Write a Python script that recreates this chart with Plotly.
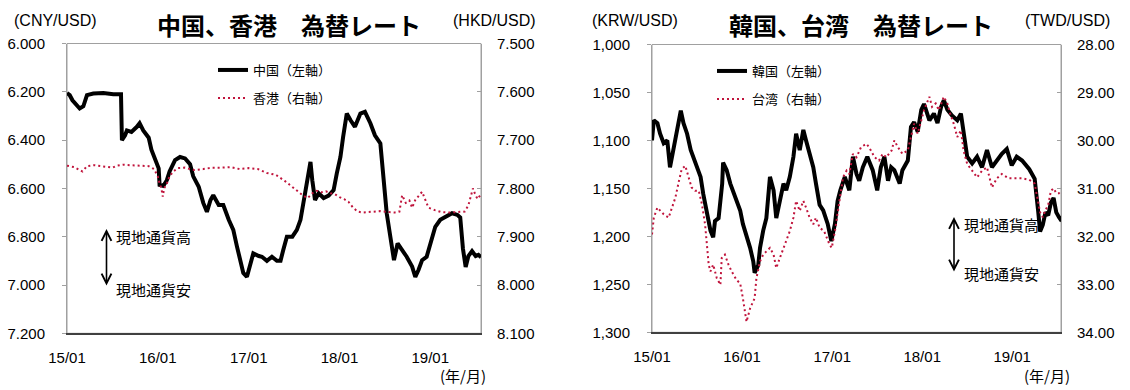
import datetime as dt
import plotly.graph_objects as go

# ---------------- data (decimal year, value) ----------------
cny_t = [2015.00, 2015.03, 2015.06, 2015.09, 2015.14, 2015.18, 2015.22, 2015.29, 2015.40, 2015.51,
         2015.595, 2015.605, 2015.64, 2015.66, 2015.71, 2015.77, 2015.80, 2015.84, 2015.90, 2015.93,
         2015.97, 2016.01, 2016.02, 2016.06, 2016.10, 2016.13, 2016.19, 2016.245, 2016.30, 2016.355,
         2016.39, 2016.45, 2016.50, 2016.54, 2016.58, 2016.61, 2016.67, 2016.72, 2016.78, 2016.83,
         2016.87, 2016.91, 2016.94, 2016.98, 2017.02, 2017.05, 2017.11, 2017.145, 2017.20, 2017.255,
         2017.31, 2017.35, 2017.38, 2017.42, 2017.48, 2017.53, 2017.57, 2017.60, 2017.64, 2017.68,
         2017.70, 2017.73, 2017.77, 2017.825, 2017.88, 2017.935, 2017.97, 2018.01, 2018.04, 2018.08,
         2018.12, 2018.17, 2018.23, 2018.28, 2018.34, 2018.39, 2018.45, 2018.485, 2018.52, 2018.56,
         2018.60, 2018.64, 2018.69, 2018.74, 2018.80, 2018.835, 2018.87, 2018.91, 2018.96, 2019.00,
         2019.055, 2019.11, 2019.165, 2019.24, 2019.30, 2019.33, 2019.36, 2019.39, 2019.42, 2019.46,
         2019.50, 2019.53, 2019.56]
cny_v = [6.205, 6.214, 6.235, 6.249, 6.269, 6.260, 6.214, 6.207, 6.205, 6.210,
         6.210, 6.400, 6.380, 6.360, 6.366, 6.345, 6.330, 6.360, 6.390, 6.440,
         6.476, 6.517, 6.586, 6.590, 6.566, 6.530, 6.483, 6.470, 6.476, 6.500,
         6.550, 6.593, 6.660, 6.697, 6.648, 6.628, 6.669, 6.669, 6.730, 6.772,
         6.840, 6.897, 6.950, 6.966, 6.910, 6.869, 6.880, 6.883, 6.900, 6.883,
         6.900, 6.900, 6.855, 6.800, 6.800, 6.772, 6.730, 6.662, 6.593, 6.490,
         6.566, 6.648, 6.620, 6.640, 6.630, 6.607, 6.538, 6.470, 6.386, 6.290,
         6.317, 6.345, 6.290, 6.283, 6.330, 6.380, 6.414, 6.550, 6.703, 6.800,
         6.897, 6.828, 6.855, 6.883, 6.924, 6.966, 6.938, 6.897, 6.883, 6.828,
         6.759, 6.730, 6.717, 6.703, 6.710, 6.720, 6.850, 6.925, 6.880, 6.860,
         6.880, 6.875, 6.885]

hkd_t = [2015.00, 2015.08, 2015.17, 2015.22, 2015.30, 2015.40, 2015.50, 2015.55, 2015.62, 2015.70,
         2015.80, 2015.90, 2015.96, 2016.00, 2016.02, 2016.04, 2016.055, 2016.07, 2016.10, 2016.13,
         2016.17, 2016.22, 2016.30, 2016.40, 2016.50, 2016.60, 2016.70, 2016.80, 2016.90, 2017.00,
         2017.10, 2017.20, 2017.30, 2017.40, 2017.50, 2017.55, 2017.60, 2017.65, 2017.70, 2017.75,
         2017.80, 2017.85, 2017.90, 2017.95, 2018.00, 2018.05, 2018.10, 2018.15, 2018.20, 2018.25,
         2018.35, 2018.45, 2018.55, 2018.62, 2018.66, 2018.69, 2018.71, 2018.73, 2018.77, 2018.80,
         2018.835, 2018.87, 2018.91, 2018.95, 2018.98, 2019.05, 2019.12, 2019.20, 2019.30, 2019.38,
         2019.42, 2019.45, 2019.47, 2019.49, 2019.52, 2019.56]
hkd_v = [7.753, 7.756, 7.765, 7.754, 7.752, 7.755, 7.757, 7.753, 7.751, 7.752,
         7.753, 7.754, 7.760, 7.775, 7.790, 7.800, 7.817, 7.800, 7.790, 7.775,
         7.765, 7.758, 7.757, 7.762, 7.760, 7.757, 7.757, 7.756, 7.760, 7.758,
         7.760, 7.768, 7.772, 7.785, 7.800, 7.808, 7.815, 7.820, 7.810, 7.805,
         7.808, 7.806, 7.810, 7.812, 7.818, 7.822, 7.828, 7.840, 7.848, 7.850,
         7.849, 7.847, 7.849, 7.850, 7.848, 7.814, 7.822, 7.830, 7.825, 7.840,
         7.824, 7.815, 7.807, 7.826, 7.840, 7.845, 7.849, 7.850, 7.849, 7.848,
         7.835, 7.815, 7.800, 7.810, 7.822, 7.812]

krw_t = [2015.00, 2015.02, 2015.06, 2015.09, 2015.13, 2015.17, 2015.20, 2015.24, 2015.28, 2015.32,
         2015.35, 2015.39, 2015.43, 2015.46, 2015.50, 2015.54, 2015.57, 2015.61, 2015.65, 2015.68,
         2015.70, 2015.74, 2015.78, 2015.79, 2015.83, 2015.87, 2015.90, 2015.94, 2015.98, 2016.01,
         2016.05, 2016.09, 2016.125, 2016.14, 2016.18, 2016.20, 2016.235, 2016.27, 2016.31, 2016.35,
         2016.38, 2016.42, 2016.46, 2016.49, 2016.53, 2016.57, 2016.60, 2016.64, 2016.68, 2016.71,
         2016.75, 2016.79, 2016.82, 2016.86, 2016.90, 2016.95, 2016.99, 2017.03, 2017.06, 2017.09,
         2017.14, 2017.19, 2017.23, 2017.27, 2017.30, 2017.34, 2017.39, 2017.45, 2017.50, 2017.54,
         2017.58, 2017.62, 2017.655, 2017.69, 2017.75, 2017.78, 2017.84, 2017.875, 2017.91, 2017.95,
         2017.99, 2018.02, 2018.08, 2018.13, 2018.17, 2018.21, 2018.24, 2018.28, 2018.33, 2018.39,
         2018.43, 2018.46, 2018.50, 2018.555, 2018.61, 2018.665, 2018.72, 2018.775, 2018.83, 2018.885,
         2018.94, 2018.995, 2019.05, 2019.11, 2019.19, 2019.25, 2019.29, 2019.31, 2019.34, 2019.37,
         2019.40, 2019.43, 2019.46, 2019.49, 2019.52, 2019.55]
krw_v = [1100, 1079, 1082, 1093, 1103, 1100, 1128, 1107, 1086, 1069,
         1082, 1093, 1110, 1117, 1128, 1138, 1156, 1173, 1194, 1201,
         1184, 1181, 1145, 1123, 1131, 1145, 1152, 1163, 1173, 1187,
         1198, 1212, 1226, 1238, 1230, 1212, 1194, 1181, 1138, 1152,
         1181, 1163, 1145, 1152, 1138, 1117, 1093, 1110, 1089, 1100,
         1114, 1128, 1145, 1167, 1173, 1187, 1205, 1187, 1163, 1152,
         1138, 1152, 1117, 1135, 1142, 1128, 1117, 1131, 1152, 1128,
         1117, 1142, 1128, 1131, 1145, 1131, 1121, 1086, 1081, 1091,
         1068, 1062, 1079, 1072, 1082, 1065, 1058, 1068, 1074, 1079,
         1072, 1089, 1117, 1124, 1117, 1128, 1110, 1128, 1121, 1114,
         1109, 1126, 1117, 1121, 1130, 1140, 1175, 1195, 1188, 1175,
         1178, 1165, 1160, 1175, 1180, 1184]

twd_t = [2015.00, 2015.02, 2015.06, 2015.09, 2015.13, 2015.185, 2015.22, 2015.26, 2015.30, 2015.33,
         2015.37, 2015.41, 2015.44, 2015.48, 2015.52, 2015.555, 2015.59, 2015.61, 2015.63, 2015.65,
         2015.68, 2015.72, 2015.76, 2015.775, 2015.81, 2015.85, 2015.885, 2015.94, 2015.98, 2016.01,
         2016.03, 2016.05, 2016.09, 2016.14, 2016.16, 2016.20, 2016.235, 2016.27, 2016.31, 2016.35,
         2016.38, 2016.42, 2016.46, 2016.49, 2016.53, 2016.57, 2016.60, 2016.64, 2016.68, 2016.71,
         2016.75, 2016.79, 2016.82, 2016.86, 2016.91, 2016.97, 2016.995, 2017.03, 2017.06, 2017.09,
         2017.12, 2017.16, 2017.19, 2017.23, 2017.27, 2017.32, 2017.38, 2017.41, 2017.47, 2017.52,
         2017.56, 2017.60, 2017.66, 2017.69, 2017.73, 2017.78, 2017.84, 2017.875, 2017.91, 2017.95,
         2017.99, 2018.02, 2018.08, 2018.11, 2018.15, 2018.185, 2018.24, 2018.28, 2018.31, 2018.35,
         2018.39, 2018.43, 2018.46, 2018.50, 2018.555, 2018.61, 2018.665, 2018.72, 2018.775, 2018.83,
         2018.885, 2018.96, 2019.03, 2019.11, 2019.19, 2019.25, 2019.29, 2019.31, 2019.34, 2019.37,
         2019.40, 2019.43, 2019.46, 2019.49, 2019.52, 2019.55]
twd_v = [31.96, 31.61, 31.40, 31.47, 31.54, 31.61, 31.40, 31.19, 30.84, 30.60,
         30.53, 30.77, 30.98, 31.05, 31.05, 31.33, 31.75, 32.17, 32.59, 32.73,
         32.59, 32.87, 33.01, 32.45, 32.38, 32.59, 32.73, 32.91, 32.98, 33.29,
         33.57, 33.78, 33.50, 33.29, 32.87, 32.52, 32.38, 32.31, 32.24, 32.38,
         32.66, 32.45, 32.24, 32.10, 31.89, 31.61, 31.26, 31.47, 31.26, 31.40,
         31.61, 31.75, 31.61, 31.82, 31.89, 32.17, 32.24, 31.89, 31.50, 31.19,
         30.77, 30.63, 30.70, 30.28, 30.35, 30.14, 30.07, 30.14, 30.35, 30.42,
         30.28, 30.35, 30.21, 30.00, 30.14, 30.28, 30.21, 29.93, 29.65, 29.86,
         29.58, 29.37, 29.09, 29.30, 29.23, 29.37, 29.09, 29.23, 29.44, 29.65,
         29.93, 29.79, 30.21, 30.49, 30.63, 30.77, 30.63, 30.56, 30.98, 30.79,
         30.70, 30.79, 30.79, 30.79, 30.82, 30.90, 31.30, 31.50, 31.60, 31.45,
         31.35, 31.05, 31.00, 31.10, 31.10, 31.15]

year_ticks = ["2015-01-01", "2016-01-01", "2017-01-01", "2018-01-01", "2019-01-01"]


def to_date(y):
    yr = int(y)
    start = dt.datetime(yr, 1, 1)
    ndays = (dt.datetime(yr + 1, 1, 1) - start).days
    return start + dt.timedelta(days=(y - yr) * ndays)


W, H = 1130, 390
NUM_FONT = "Liberation Sans, Arial, sans-serif"
JP_FONT = "Noto Sans CJK JP, sans-serif"
RED = "#C0143C"


def px(x):
    return x / W


def py(y):
    return 1 - y / H


fig = go.Figure()
fig.add_trace(go.Scatter(x=[to_date(t) for t in cny_t], y=cny_v, mode="lines", name="中国（左軸）",
                         line=dict(color="black", width=4), xaxis="x", yaxis="y", legend="legend"))
fig.add_trace(go.Scatter(x=[to_date(t) for t in hkd_t], y=hkd_v, mode="lines", name="香港（右軸）",
                         line=dict(color=RED, width=2, dash="2px,3px"), xaxis="x", yaxis="y2", legend="legend2"))
fig.add_trace(go.Scatter(x=[to_date(t) for t in krw_t], y=krw_v, mode="lines", name="韓国（左軸）",
                         line=dict(color="black", width=4), xaxis="x2", yaxis="y3", legend="legend3"))
fig.add_trace(go.Scatter(x=[to_date(t) for t in twd_t], y=twd_v, mode="lines", name="台湾（右軸）",
                         line=dict(color=RED, width=2, dash="2px,3px"), xaxis="x2", yaxis="y4", legend="legend4"))

xcommon = dict(type="date", tickvals=year_ticks, tickformat="%y/%m", showgrid=False, zeroline=False,
               showline=True, linecolor="#404040", linewidth=1.5, ticks="", automargin=False,
               tickfont=dict(family=NUM_FONT, size=15, color="black"), ticklabelstandoff=10)
ycommon = dict(showgrid=False, zeroline=False, showline=True, linecolor="#A0A0A0", linewidth=1,
               automargin=False,
               tickfont=dict(family=NUM_FONT, size=15, color="black"), tickcolor="#A0A0A0", ticklen=4)

left_dom_y = [py(333.3), py(43.5)]
right_dom_y = [py(332.3), py(44.5)]

fig.update_layout(
    width=W, height=H, margin=dict(l=0, r=0, t=0, b=0, autoexpand=False),
    paper_bgcolor="white", plot_bgcolor="white",
    xaxis=dict(xcommon, domain=[px(67), px(481)], anchor="y", range=["2015-01-01", "2019-07-24"]),
    yaxis=dict(ycommon, domain=left_dom_y, anchor="x", range=[7.2, 6.0], dtick=0.2, tick0=6.0,
               tickformat=".3f", ticks="outside", ticklabelstandoff=14),
    yaxis2=dict(ycommon, overlaying="y", side="right", anchor="x", range=[8.1, 7.5], dtick=0.1, tick0=7.5,
                tickformat=".3f", ticks="inside", ticklabelstandoff=12),
    xaxis2=dict(xcommon, domain=[px(652), px(1061)], anchor="y3", range=["2015-01-01", "2019-07-18"]),
    yaxis3=dict(ycommon, domain=right_dom_y, anchor="x2", range=[1300, 1000], dtick=50, tick0=1000,
                tickformat=",", ticks="outside", ticklabelstandoff=14),
    yaxis4=dict(ycommon, overlaying="y3", side="right", anchor="x2", range=[34, 28], dtick=1, tick0=28,
                tickformat=".2f", ticks="inside", ticklabelstandoff=12),
    showlegend=True,
)

leg = dict(bgcolor="rgba(0,0,0,0)", borderwidth=0, font=dict(family=JP_FONT, size=13, color="black"),
           xanchor="left", yanchor="middle", orientation="v", itemclick=False)
fig.update_layout(
    legend=dict(leg, x=px(213), y=py(70)),
    legend2=dict(leg, x=px(213), y=py(98)),
    legend3=dict(leg, x=px(712), y=py(71)),
    legend4=dict(leg, x=px(712), y=py(99)),
)

# plot-area frames
for xr, yr in (("x domain", "y domain"), ("x2 domain", "y3 domain")):
    fig.add_shape(type="rect", xref=xr, yref=yr, x0=0, x1=1, y0=0, y1=1,
                  line=dict(color="#A0A0A0", width=1), layer="below")

ann = []


def txt(x, y, s, size, family, bold=False, xanchor="center"):
    ann.append(dict(x=px(x), y=py(y), xref="paper", yref="paper", text=("<b>%s</b>" % s) if bold else s,
                    showarrow=False, xanchor=xanchor, yanchor="middle",
                    font=dict(family=family, size=size, color="black")))


txt(289, 24, "中国、香港　為替レート", 24, JP_FONT, bold=True)
txt(861, 24, "韓国、台湾　為替レート", 24, JP_FONT, bold=True)
txt(55, 20, "(CNY/USD)", 16, NUM_FONT)
txt(494, 20, "(HKD/USD)", 16, NUM_FONT)
txt(635, 20, "(KRW/USD)", 16, NUM_FONT)
txt(1067, 20, "(TWD/USD)", 16, NUM_FONT)
txt(463, 375, "(年/月)", 15, JP_FONT)
txt(1047, 375, "(年/月)", 15, JP_FONT)
txt(114, 237, "現地通貨高", 15, JP_FONT, xanchor="left")
txt(114, 289, "現地通貨安", 15, JP_FONT, xanchor="left")
txt(962, 225, "現地通貨高", 15, JP_FONT, xanchor="left")
txt(962, 273, "現地通貨安", 15, JP_FONT, xanchor="left")

for (x, y0, y1) in ((106.5, 229, 287), (954, 217, 273)):
    ann.append(dict(x=px(x), y=py(y0), xref="paper", yref="paper", ax=0, ay=(y1 - y0), axref="pixel",
                    ayref="pixel", text="", showarrow=True, arrowhead=5, startarrowhead=5,
                    arrowside="end+start", arrowsize=1.2, arrowwidth=1.6, arrowcolor="black"))

fig.update_layout(annotations=ann)
fig.write_html("out.html", config={"displayModeBar": False},
               post_script="document.body.style.margin='0px';document.documentElement.style.overflow='hidden';")
